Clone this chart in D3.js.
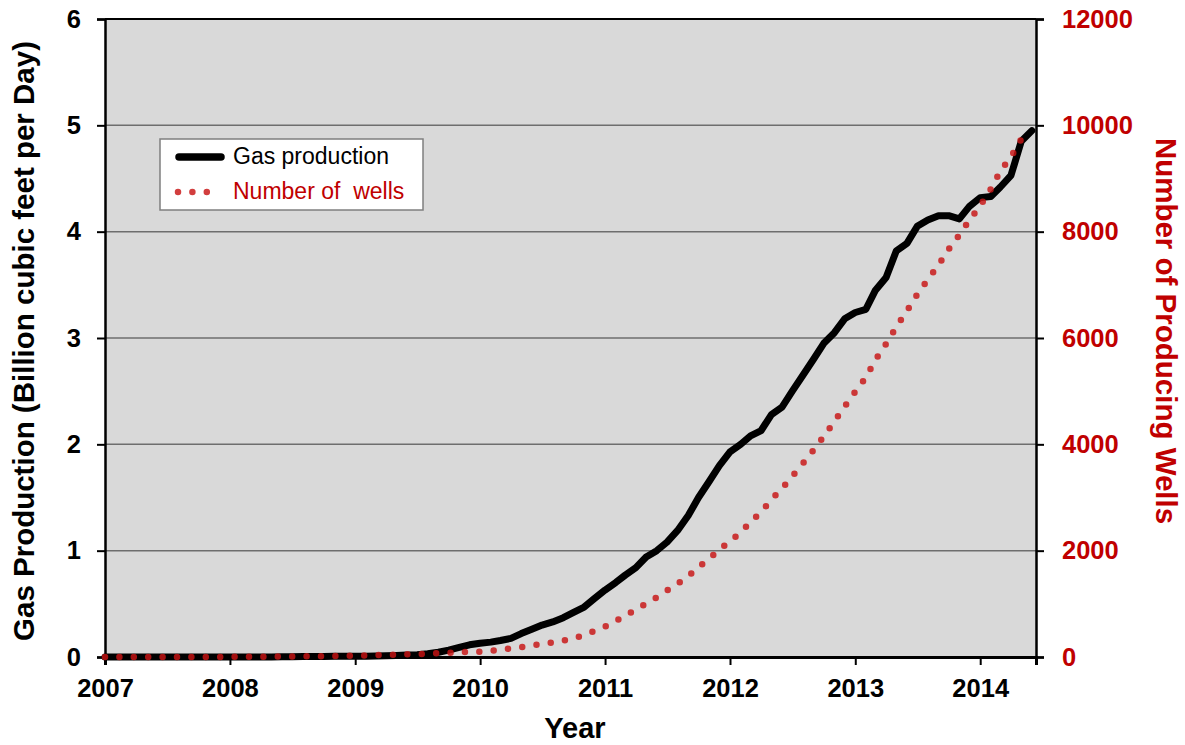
<!DOCTYPE html>
<html>
<head>
<meta charset="utf-8">
<script src="https://cdn.jsdelivr.net/npm/d3@7"></script>
<style>
  html, body { margin: 0; padding: 0; background: #fff; }
  svg { display: block; font-family: "Liberation Sans", Arial, Helvetica, sans-serif; }
</style>
</head>
<body>
<svg id="chart" width="1185" height="745"></svg>
<script>
// ---- Data (monthly, starting Jan 2007) ----
const startMonth = new Date(2007, 0, 1);
const xTickYears = [2007, 2008, 2009, 2010, 2011, 2012, 2013, 2014];
const leftTicks = [0, 1, 2, 3, 4, 5, 6];
const rightTicks = [0, 2000, 4000, 6000, 8000, 10000, 12000];

// Gas production, Bcf/d (Jan 2007 .. Jun 2014)
const gasProduction = [
  0,0,0,0,0,0,0,0,0,0,0,0,
  0,0,0,0,0,0.002,0.003,0.004,0.005,0.005,0.006,0.006,
  0.007,0.008,0.01,0.012,0.015,0.018,0.022,0.03,0.045,0.065,0.09,0.115,
  0.13,0.14,0.155,0.175,0.22,0.26,0.3,0.33,0.37,0.42,0.47,0.55,
  0.63,0.7,0.77,0.84,0.94,1.0,1.08,1.19,1.33,1.5,1.65,1.8,
  1.93,2.0,2.08,2.13,2.28,2.35,2.5,2.65,2.8,2.95,3.05,3.18,
  3.24,3.27,3.45,3.57,3.82,3.89,4.05,4.11,4.15,4.15,4.12,4.24,
  4.32,4.33,4.42,4.53,4.85,4.95
];

// Number of producing wells (Jan 2007 .. May 2014)
const producingWells = [
  0,0,0,0,0,0,0,0,0,0,0,0,
  2,3,4,5,6,8,10,12,14,16,18,20,
  25,30,35,40,45,50,55,62,70,80,90,95,
  100,115,135,160,185,215,245,275,310,355,410,490,
  570,670,790,880,1010,1120,1250,1380,1520,1690,1850,2020,
  2180,2340,2540,2730,2960,3170,3400,3640,3890,4150,4430,4710,
  4990,5260,5590,5890,6210,6510,6820,7100,7370,7670,7940,8220,
  8490,8800,9140,9410,9740
];

const seriesNames = ["Gas production", "Number of  wells"];

// ---- Layout ----
const svg = d3.select("#chart");
const L = 105, R = 1036, T = 19, B = 657;
const monthDate = i => d3.timeMonth.offset(startMonth, i);

const x = d3.scaleTime()
  .domain([new Date(2007, 0, 1), new Date(2014, 5, 13)])
  .range([L, R]);
const yL = d3.scaleLinear().domain([0, 6]).range([B, T]);
const yR = d3.scaleLinear().domain([0, 12000]).range([B, T]);

const red = "#c00000";

// Plot background
svg.append("rect").attr("x", L).attr("y", T).attr("width", R - L).attr("height", B - T)
  .attr("fill", "#d9d9d9");

// Gridlines
svg.append("g").selectAll("line").data(leftTicks.filter(d => d > 0)).join("line")
  .attr("x1", L).attr("x2", R)
  .attr("y1", d => yL(d)).attr("y2", d => yL(d))
  .attr("stroke", d => d === 6 ? "#000" : "#6e6e6e")
  .attr("stroke-width", d => d === 6 ? 2 : 1.5);

// Left axis
const gL = svg.append("g").attr("transform", `translate(${L},0)`)
  .call(d3.axisLeft(yL).tickValues(leftTicks).tickFormat(d3.format("d")).tickSize(8).tickPadding(16));
gL.select(".domain").attr("stroke", "#000").attr("stroke-width", 2.5);
gL.selectAll(".tick line").attr("stroke", "#000").attr("stroke-width", 2);
gL.selectAll(".tick text").attr("font-size", 25.5).attr("font-weight", "bold")
  .attr("font-family", "Liberation Sans, Arial, sans-serif").attr("fill", "#000");

// Right axis
const gR = svg.append("g").attr("transform", `translate(${R},0)`)
  .call(d3.axisRight(yR).tickValues(rightTicks).tickFormat(d3.format("d")).tickSize(8).tickPadding(18));
gR.select(".domain").attr("stroke", "#000").attr("stroke-width", 2.5);
gR.selectAll(".tick line").attr("stroke", "#000").attr("stroke-width", 2);
gR.selectAll(".tick text").attr("font-size", 25.5).attr("font-weight", "bold")
  .attr("font-family", "Liberation Sans, Arial, sans-serif").attr("fill", red);

// Bottom axis
const gB = svg.append("g").attr("transform", `translate(0,${B})`)
  .call(d3.axisBottom(x).tickValues(xTickYears.map(y => new Date(y, 0, 1)))
    .tickFormat(d3.timeFormat("%Y")).tickSize(8).tickPadding(14));
gB.select(".domain").attr("stroke", "#000").attr("stroke-width", 3);
gB.selectAll(".tick line").attr("stroke", "#000").attr("stroke-width", 2);
gB.selectAll(".tick text").attr("font-size", 25.5).attr("font-weight", "bold")
  .attr("font-family", "Liberation Sans, Arial, sans-serif").attr("fill", "#000");

// Lines
const gasLine = d3.line().x((d, i) => x(monthDate(i))).y(d => yL(d));
const wellLine = d3.line().x((d, i) => x(monthDate(i))).y(d => yR(d));

svg.append("path").datum(gasProduction)
  .attr("d", gasLine)
  .attr("fill", "none").attr("stroke", "#000").attr("stroke-width", 7)
  .attr("stroke-linejoin", "round").attr("stroke-linecap", "round");

svg.append("path").datum(producingWells)
  .attr("d", wellLine)
  .attr("fill", "none").attr("stroke", "rgb(200,20,20)").attr("stroke-opacity", 0.82)
  .attr("stroke-width", 6.5).attr("stroke-linecap", "round")
  .attr("stroke-dasharray", "0 14.4");

// Legend
const lg = svg.append("g");
lg.append("rect").attr("x", 160).attr("y", 139).attr("width", 263).attr("height", 71)
  .attr("fill", "#fff").attr("stroke", "#7f7f7f").attr("stroke-width", 1.5);
lg.append("line").attr("x1", 179).attr("x2", 221).attr("y1", 157).attr("y2", 157)
  .attr("stroke", "#000").attr("stroke-width", 7.5).attr("stroke-linecap", "round");
lg.append("line").attr("x1", 178).attr("x2", 208).attr("y1", 192).attr("y2", 192)
  .attr("stroke", "rgb(200,20,20)").attr("stroke-opacity", 0.82).attr("stroke-width", 6.5)
  .attr("stroke-linecap", "round").attr("stroke-dasharray", "0 14.4");
lg.append("text").attr("x", 233).attr("y", 164).attr("font-size", 23).attr("fill", "#000")
  .text(seriesNames[0]);
lg.append("text").attr("x", 233).attr("y", 199).attr("font-size", 23).attr("fill", red)
  .style("white-space", "pre").text(seriesNames[1]);

// Axis titles
svg.append("text")
  .attr("transform", `translate(34,${(T + B) / 2 + 3}) rotate(-90)`)
  .attr("text-anchor", "middle").attr("font-size", 29.5).attr("font-weight", "bold")
  .attr("fill", "#000").text("Gas Production (Billion cubic feet per Day)");
svg.append("text")
  .attr("transform", `translate(1156,${(T + B) / 2 - 7}) rotate(90)`)
  .attr("text-anchor", "middle").attr("font-size", 29.5).attr("font-weight", "bold")
  .attr("fill", red).text("Number of Producing Wells");
svg.append("text")
  .attr("x", 575).attr("y", 738)
  .attr("text-anchor", "middle").attr("font-size", 29).attr("font-weight", "bold")
  .attr("fill", "#000").text("Year");
</script>
</body>
</html>
